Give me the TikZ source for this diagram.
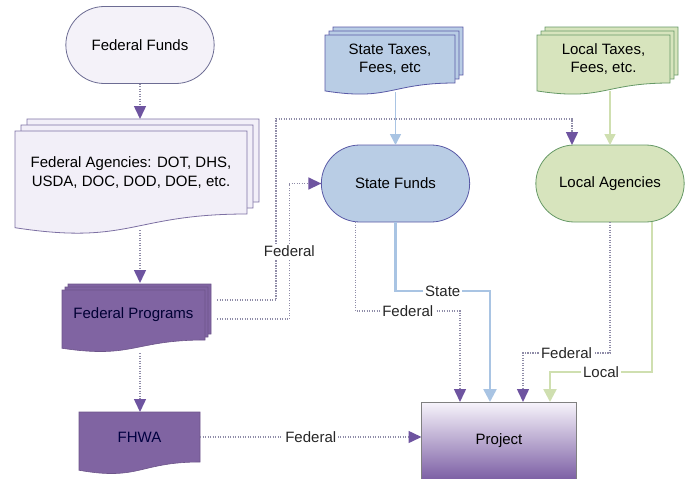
\documentclass[tikz,border=0pt]{standalone}
\usepackage{fontspec}
\setmainfont{Liberation Sans}
\usepackage{tikz}
\usetikzlibrary{calc}
\usetikzlibrary{arrows.meta}
\usetikzlibrary{shapes.misc}
\usetikzlibrary{backgrounds}
\definecolor{fedpale}{HTML}{F4F2F9}
\definecolor{agpale}{HTML}{F2EFF8}
\definecolor{agedge}{HTML}{7D70A3}
\definecolor{fedpurple}{HTML}{8064A2}
\definecolor{statefill}{HTML}{B9CDE5}
\definecolor{localfill}{HTML}{D7E4BD}
\definecolor{dotcol}{HTML}{8F8CA8}
\definecolor{tipcol}{HTML}{6E54A0}
\definecolor{stateline}{HTML}{A9C4E3}
\definecolor{localline}{HTML}{CFDFB0}
\definecolor{projtop}{HTML}{F7F4FB}
\definecolor{projbot}{HTML}{7D60A5}
\tikzset{>=latex}
\tikzset{terminal/.style = {shape=rounded rectangle,draw=gray!85!blue,line width=0.8pt,minimum width=155pt,minimum height=77pt,outer sep=0pt}}
\tikzset{docnode/.style = {shape=rectangle,align=center,outer sep=0pt,inner sep=0pt}}
\tikzset{fedline/.style = {draw=dotcol,line width=1.5pt,dash pattern=on 1.2pt off 1.3pt,-{Triangle[width=12pt,length=13pt,color=tipcol]}}}
\tikzset{stateflow/.style = {draw=stateline,line width=2.5pt,-{Triangle[width=13pt,length=13pt]}}}
\tikzset{localflow/.style = {draw=localline,line width=2.5pt,-{Triangle[width=13pt,length=13pt]}}}
\tikzset{lbl/.style = {fill=white,inner sep=2pt,text=black!85}}
\newcommand{\docpage}[2]{%
  \path[#2] (#1.north west) -- (#1.north east) -- (#1.south east)
    .. controls (#1.south) and ($(#1.north)!1.38!(#1.south)$) .. ($(#1.north west)!1.165!(#1.south west)$) -- cycle;
}
\newcommand{\docstack}[3]{%
  \begin{scope}[transform canvas={xshift=2*#3,yshift=2*#3}]\docpage{#1}{#2}\end{scope}
  \begin{scope}[transform canvas={xshift=#3,yshift=#3}]\docpage{#1}{#2}\end{scope}
  \docpage{#1}{#2}
}

\begin{document}
\begin{tikzpicture}[x=1pt,y=-1pt,font=\fontsize{15}{18.5}\selectfont]
    \useasboundingbox (0,0) rectangle (688,479);

    \node[terminal,fill=fedpale] (fedfunds) at (140,45) {Federal Funds};
    \node[docnode,minimum width=232pt,minimum height=83pt] (fedag) at (131,172.5) {Federal Agencies: DOT, DHS,\\USDA, DOC, DOD, DOE, etc.};
    \node[docnode,minimum width=143pt,minimum height=50pt,text=black!80!blue] (fedprog) at (133.5,315) {Federal Programs};
    \node[docnode,minimum width=121pt,minimum height=50pt,text=black!75!blue] (fhwa) at (139.5,437) {FHWA};
    \node[docnode,minimum width=130pt,minimum height=48pt] (statetax) at (390,59) {State Taxes,\\Fees, etc};
    \node[docnode,minimum width=133pt,minimum height=48pt] (localtax) at (603.5,59) {Local Taxes,\\Fees, etc.};
    \node[terminal,fill=statefill,draw=gray!70!blue] (statefunds) at (395.5,183.5) {State Funds};
    \node[terminal,fill=localfill,draw=gray!80!green] (localag) at (610,183.5) {Local Agencies};
    \node[shape=rectangle,draw=gray,line width=0.8pt,top color=projtop,bottom color=projbot,minimum width=155pt,minimum height=77pt,outer sep=0pt] (project) at (499,440.5) {Project};

    \begin{pgfonlayer}{background}
        \docstack{fedag}{fill=agpale,draw=agedge,line width=0.8pt}{6pt}
        \docstack{fedprog}{fill=fedpurple,draw=fedpurple!85!black,line width=0.6pt}{3pt}
        \docpage{fhwa}{fill=fedpurple,draw=fedpurple!85!black,line width=0.6pt}
        \docstack{statetax}{fill=statefill,draw=gray!70!blue,line width=0.8pt}{4pt}
        \docstack{localtax}{fill=localfill,draw=gray!80!green,line width=0.8pt}{4pt}
    \end{pgfonlayer}

    \draw[fedline] (fedfunds.south) -- ($(fedfunds.south |- fedag.north)+(0,-12)$);
    \draw[fedline] ($(fedfunds.south |- fedag.south)+(0,16)$) -- ($(fedfunds.south |- fedprog.north)+(0,-7)$);
    \draw[fedline] ($(fedfunds.south |- fedprog.south)+(0,13)$) -- (fedfunds.south |- fhwa.north);
    \draw[fedline] (fhwa.east) -- node[lbl] {Federal} (fhwa.east -| project.west);
    \draw[fedline] ($(fedprog.east)+(12,-15)$) -| ($(fedprog.east |- fedag.north)+(71,-12)$) -| ($(localag.north)+(-38,0)$);
    \draw[fedline] ($(fedprog.east)+(12,4)$) -| node[lbl,pos=0.75] {Federal} ($(statefunds.west)+(-32,0)$) -- (statefunds.west);

    \draw[draw=stateline,line width=1.5pt,-{Triangle[width=11pt,length=11pt]}] ($(statefunds.north |- statetax.south)+(0,9)$) -- (statefunds.north);
    \draw[draw=localline,line width=1.5pt,-{Triangle[width=11pt,length=11pt]}] ($(localag.north |- localtax.south)+(0,8)$) -- (localag.north);

    \draw[fedline] ($(statefunds.south)+(-40,0)$) |- node[lbl,pos=0.75] {Federal} ($(project.north)+(-39,-91)$) -- ($(project.north)+(-39,0)$);
    \draw[stateflow] (statefunds.south) |- node[lbl,pos=0.75] {State} ($(project.north)+(-9,-111)$) -- ($(project.north)+(-9,0)$);
    \draw[fedline] (localag.south) |- node[lbl,pos=0.75] {Federal} ($(project.north)+(24,-49)$) -- ($(project.north)+(24,0)$);
    \draw[localflow] ($(localag.south)+(42,0)$) |- node[lbl,pos=0.75] {Local} ($(project.north)+(51,-30)$) -- ($(project.north)+(51,0)$);
\end{tikzpicture}
\end{document}
